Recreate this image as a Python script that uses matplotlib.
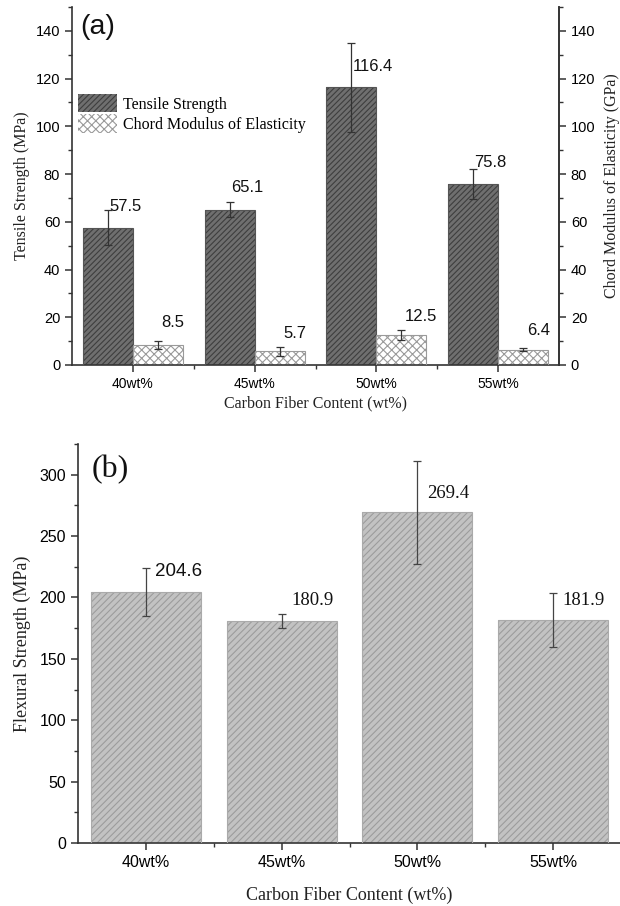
import matplotlib
matplotlib.use("Agg")
import matplotlib.pyplot as plt
import numpy as np
from matplotlib.ticker import MultipleLocator, FixedLocator

# ---------------- data ----------------
categories = ["40wt%", "45wt%", "50wt%", "55wt%"]
tensile = [57.5, 65.1, 116.4, 75.8]
tensile_err = [7.3, 3.2, 18.7, 6.3]
modulus = [8.5, 5.7, 12.5, 6.4]
modulus_err = [1.6, 1.8, 2.2, 0.6]
flexural = [204.6, 180.9, 269.4, 181.9]
flexural_err = [19.5, 5.5, 42.0, 22.0]

# label layout (y positions in data units)
tensile_label_y = [66.6, 74.2, 125.0, 85.0]
modulus_label_y = [18.0, 13.0, 20.5, 14.3]
flex_label_y = [221.0, 197.5, 285.0, 197.5]

SANS = ["Liberation Sans", "DejaVu Sans"]
SERIF = ["Liberation Serif", "DejaVu Serif"]
plt.rcParams['font.family'] = SANS
plt.rcParams['hatch.linewidth'] = 0.8

fig = plt.figure(figsize=(6.2, 9.06), dpi=100)
axcol = "#333333"

def style_axis(ax, spines_on):
    for s in ["top", "right", "left", "bottom"]:
        ax.spines[s].set_visible(s in spines_on)
        ax.spines[s].set_color(axcol)
        ax.spines[s].set_linewidth(1.2)
    ax.tick_params(which="major", direction="out", length=5, width=1.1, color=axcol)
    ax.tick_params(which="minor", direction="out", length=3, width=1.0, color=axcol)

# ---------------- panel (a) ----------------
axa = fig.add_axes([72/620, 1-365/906, (559-72)/620, (365-7)/906])
x = np.arange(len(categories))
w = 0.41
# tensile bars
axa.bar(x - w/2, tensile, w, color="#6f6f6f", edgecolor="#3e3e3e", hatch="//////", linewidth=0, zorder=2,
        label="Tensile Strength")
axa.bar(x - w/2, tensile, w, fill=False, edgecolor="#555555", linewidth=0.8, zorder=3)
axa.errorbar(x - w/2, tensile, yerr=tensile_err, fmt="none", ecolor="#333333", elinewidth=0.9,
             capsize=3, capthick=0.9, zorder=4)
# modulus bars
axa.bar(x + w/2, modulus, w, color="white", edgecolor="#9a9a9a", hatch="xxxx", linewidth=0, zorder=2,
        label="Chord Modulus of Elasticity")
axa.bar(x + w/2, modulus, w, fill=False, edgecolor="#9a9a9a", linewidth=0.8, zorder=3)
axa.errorbar(x + w/2, modulus, yerr=modulus_err, fmt="none", ecolor="#333333", elinewidth=0.9,
             capsize=3, capthick=0.9, zorder=4)

for i in range(len(categories)):
    axa.text(x[i] - w/2 + 0.01, tensile_label_y[i], f"{tensile[i]:.1f}", ha="left", va="center",
             fontsize=12, color="#111111", family=SANS)
    axa.text(x[i] + w/2 + 0.03, modulus_label_y[i], f"{modulus[i]:.1f}", ha="left", va="center",
             fontsize=12, color="#111111", family=SANS)

axa.set_xlim(-0.5, 3.5)
axa.set_ylim(0, 150)
axa.set_xticks(x)
axa.set_xticklabels(categories, fontsize=10, family=SANS)
axa.xaxis.set_minor_locator(FixedLocator([0.5, 1.5, 2.5]))
axa.yaxis.set_major_locator(MultipleLocator(20))
axa.yaxis.set_minor_locator(MultipleLocator(10))
axa.tick_params(axis="y", labelsize=10.5)
style_axis(axa, ["left", "bottom", "right"])
axa.set_ylabel("Tensile Strength (MPa)", family=SERIF, fontsize=11.5, color="#222222", labelpad=4)
axa.set_xlabel("Carbon Fiber Content (wt%)", family=SERIF, fontsize=11.5, color="#222222", labelpad=3)
axa.text(0.017, 0.945, "(a)", transform=axa.transAxes, fontsize=20.5, family=SANS, va="center",
         ha="left", color="#111111")

axr = axa.twinx()
axr.set_ylim(0, 150)
axr.yaxis.set_major_locator(MultipleLocator(20))
axr.yaxis.set_minor_locator(MultipleLocator(10))
axr.tick_params(axis="y", labelsize=10.5)
style_axis(axr, ["right"])
axr.set_ylabel("Chord Modulus of Elasticity (GPa)", family=SERIF, fontsize=11.5, color="#222222", labelpad=6)

leg = axa.legend(loc="upper left", bbox_to_anchor=(0.004, 0.768), frameon=False,
                 prop={"family": SERIF, "size": 11.5}, handlelength=2.45, handleheight=1.4,
                 handletextpad=0.35, labelspacing=0.1, borderaxespad=0.0, borderpad=0.25)

# ---------------- panel (b) ----------------
axb = fig.add_axes([78/620, 1-843/906, (621-78)/620, (843-444)/906])
wb = 0.81
axb.bar(x, flexural, wb, color="#c2c2c2", edgecolor="#9c9c9c", hatch="/////", linewidth=0, zorder=2)
axb.bar(x, flexural, wb, fill=False, edgecolor="#aaaaaa", linewidth=0.8, zorder=3)
axb.errorbar(x, flexural, yerr=flexural_err, fmt="none", ecolor="#444444", elinewidth=0.9,
             capsize=3, capthick=0.9, zorder=4)
for i in range(len(categories)):
    fam = SANS if i == 0 else SERIF
    axb.text(x[i] + 0.07, flex_label_y[i], f"{flexural[i]:.1f}", ha="left", va="center",
             fontsize=13.5, family=fam, color="#111111")

axb.set_xlim(-0.5, 3.5)
axb.set_ylim(0, 325)
axb.set_xticks(x)
axb.set_xticklabels(categories, fontsize=11.5, family=SANS)
axb.xaxis.set_minor_locator(FixedLocator([0.5, 1.5, 2.5]))
axb.yaxis.set_major_locator(MultipleLocator(50))
axb.yaxis.set_minor_locator(MultipleLocator(25))
axb.tick_params(axis="y", labelsize=11.5)
style_axis(axb, ["left", "bottom"])
axb.set_ylabel("Flexural Strength (MPa)", family=SERIF, fontsize=13, color="#222222", labelpad=6)
axb.set_xlabel("Carbon Fiber Content (wt%)", family=SERIF, fontsize=13, color="#222222", labelpad=12)
axb.text(0.025, 0.935, "(b)", transform=axb.transAxes, fontsize=23, family=SERIF, va="center",
         ha="left", color="#111111")

fig.savefig("out.png", dpi=100)
